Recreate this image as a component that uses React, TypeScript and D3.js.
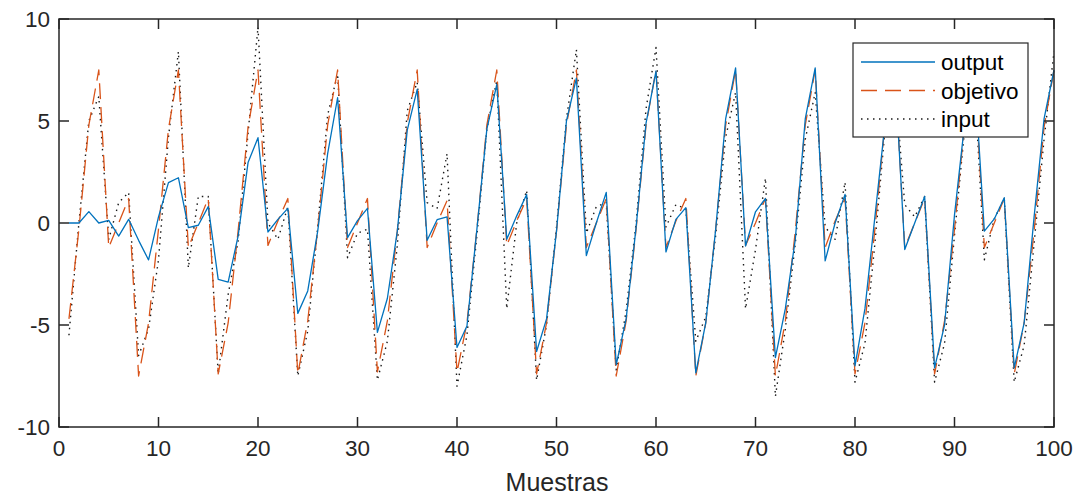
import React, { useRef, useEffect } from 'react';
import * as d3 from 'd3';

// sample values (samples 1..100)
const outputValues = [
  0.0, 0.0, 0.56, 0.0, 0.13, -0.64, 0.18, -0.85, -1.81, 0.3,
  1.98, 2.22, -0.23, -0.11, 0.8, -2.76, -2.9, -0.64, 2.96, 4.18,
  -0.44, 0.18, 0.72, -4.43, -3.33, -0.4, 3.4, 6.14, -0.72, 0.12,
  0.72, -5.36, -3.7, -0.4, 4.55, 6.55, -0.85, 0.16, 0.3, -6.1,
  -5.05, -0.3, 4.6, 6.8, -0.8, 0.35, 1.4, -6.3, -4.7, -0.4,
  5.0, 7.1, -1.6, 0.0, 1.5, -6.95, -4.7, -0.2, 4.9, 7.45,
  -1.42, 0.18, 0.75, -7.35, -4.9, -0.3, 5.1, 7.6, -1.13, 0.55,
  1.2, -6.6, -4.2, -0.8, 5.1, 7.6, -1.86, 0.0, 1.4, -7.0,
  -4.2, 0.3, 4.8, 7.5, -1.3, 0.0, 1.3, -7.1, -5.0, 0.4,
  4.8, 7.5, -0.4, 0.2, 1.24, -7.1, -4.9, 0.3, 5.1, 7.5,
];

const objetivoValues = [
  -4.7, -0.3, 4.8, 7.5, -1.2, 0.0, 1.2, -7.5, -4.9, -0.3,
  4.6, 7.5, -1.2, 0.0, 1.2, -7.4, -4.9, -0.4, 4.7, 7.5,
  -1.1, 0.1, 1.2, -7.4, -4.8, -0.3, 4.8, 7.5, -1.2, 0.0,
  1.2, -7.3, -4.8, -0.4, 4.9, 7.5, -1.2, 0.0, 1.1, -7.3,
  -4.9, -0.3, 4.8, 7.5, -1.1, 0.1, 1.2, -7.4, -4.9, -0.4,
  4.8, 7.5, -1.2, 0.0, 1.2, -7.5, -4.8, -0.3, 4.8, 7.5,
  -1.2, 0.1, 1.2, -7.5, -4.9, -0.3, 4.8, 7.5, -1.1, 0.0,
  1.2, -7.5, -4.8, -0.4, 4.8, 7.5, -1.2, 0.1, 1.2, -7.4,
  -4.9, -0.3, 4.8, 7.5, -1.2, 0.0, 1.2, -7.4, -4.8, -0.3,
  4.8, 7.5, -1.2, 0.0, 1.2, -7.4, -4.9, -0.4, 4.7, 7.5,
];

const inputValues = [
  -5.5, 0.0, 5.0, 6.2, -0.8, 1.0, 1.5, -6.5, -5.2, -1.8,
  4.2, 8.4, -2.2, 1.3, 1.3, -7.4, -3.5, -0.9, 4.4, 9.6,
  0.0, -0.8, 0.8, -7.5, -5.3, -0.2, 5.3, 7.3, -1.7, -0.5,
  -0.3, -7.7, -5.8, -1.1, 5.5, 6.9, 1.0, 0.7, 3.4, -8.0,
  -5.5, -0.6, 4.6, 7.0, -4.2, 0.0, 1.6, -7.7, -5.0, -0.2,
  5.1, 8.5, -0.5, 0.8, 1.0, -7.2, -4.3, 0.0, 5.6, 8.6,
  -0.2, 0.9, 0.7, -5.8, -4.6, -0.6, 4.2, 6.4, -4.2, -1.3,
  2.2, -8.5, -5.2, -1.0, 4.1, 6.4, -0.2, -0.8, 2.0, -7.8,
  -5.9, -1.0, 4.5, 7.0, 0.9, 0.3, 1.3, -7.8, -5.9, -0.6,
  4.5, 7.0, -1.8, 0.2, 1.2, -7.8, -6.0, -1.0, 4.1, 8.4,
];

const xTicks = [0, 10, 20, 30, 40, 50, 60, 70, 80, 90, 100];
const yTicks = [-10, -5, 0, 5, 10];
const seriesNames = ['output', 'objetivo', 'input'];

const WIDTH = 1082;
const HEIGHT = 498;
const FONT = '"Liberation Sans", Arial, Helvetica, sans-serif';

function App() {
  const svgRef = useRef<SVGSVGElement | null>(null);

  useEffect(() => {
    const svg = d3.select(svgRef.current);
    svg.selectAll('*').remove();

    const margin = { top: 19, right: 28, bottom: 71, left: 59 };
    const innerWidth = WIDTH - margin.left - margin.right;
    const innerHeight = HEIGHT - margin.top - margin.bottom;

    const x = d3.scaleLinear().domain([0, 100]).range([0, innerWidth]);
    const y = d3.scaleLinear().domain([-10, 10]).range([innerHeight, 0]);

    const g = svg.append('g').attr('transform', `translate(${margin.left},${margin.top})`);

    const styles = [
      { color: '#0072BD', dash: null, width: 1.3 },
      { color: '#D95319', dash: '16,8', width: 1.3 },
      { color: '#1a1a1a', dash: '1.5,4.5', width: 1.4 },
    ];
    const allSeries = [outputValues, objetivoValues, inputValues];

    const line = d3.line<number>()
      .x((_, i) => x(i + 1))
      .y(d => y(d));

    // draw input first so output sits on top like in the reference
    [2, 1, 0].forEach(k => {
      const s = styles[k];
      g.append('path')
        .datum(allSeries[k])
        .attr('fill', 'none')
        .attr('stroke', s.color)
        .attr('stroke-width', s.width)
        .attr('stroke-dasharray', s.dash)
        .attr('stroke-linejoin', 'round')
        .attr('d', line);
    });

    // axes box with inward ticks on all four sides
    const axisColor = '#262626';
    const tickLen = 10;
    g.append('rect')
      .attr('width', innerWidth).attr('height', innerHeight)
      .attr('fill', 'none').attr('stroke', axisColor).attr('stroke-width', 1.5);

    xTicks.forEach(t => {
      g.append('line').attr('x1', x(t)).attr('x2', x(t)).attr('y1', innerHeight).attr('y2', innerHeight - tickLen)
        .attr('stroke', axisColor).attr('stroke-width', 1.5);
      g.append('line').attr('x1', x(t)).attr('x2', x(t)).attr('y1', 0).attr('y2', tickLen)
        .attr('stroke', axisColor).attr('stroke-width', 1.5);
      g.append('text').attr('x', x(t)).attr('y', innerHeight + 29)
        .attr('text-anchor', 'middle').attr('font-family', FONT).attr('font-size', 22.5)
        .attr('fill', axisColor).text(t);
    });

    yTicks.forEach(t => {
      g.append('line').attr('x1', 0).attr('x2', tickLen).attr('y1', y(t)).attr('y2', y(t))
        .attr('stroke', axisColor).attr('stroke-width', 1.5);
      g.append('line').attr('x1', innerWidth).attr('x2', innerWidth - tickLen).attr('y1', y(t)).attr('y2', y(t))
        .attr('stroke', axisColor).attr('stroke-width', 1.5);
      g.append('text').attr('x', -9).attr('y', y(t)).attr('dy', '0.36em')
        .attr('text-anchor', 'end').attr('font-family', FONT).attr('font-size', 22.5)
        .attr('fill', axisColor).text(t);
    });

    g.append('text')
      .attr('x', innerWidth / 2 + 0.5).attr('y', innerHeight + 64)
      .attr('text-anchor', 'middle').attr('font-family', FONT).attr('font-size', 25)
      .attr('fill', axisColor).text('Muestras');

    // legend
    const lg = svg.append('g').attr('transform', 'translate(853,43)');
    lg.append('rect').attr('width', 175).attr('height', 94)
      .attr('fill', '#fff').attr('stroke', axisColor).attr('stroke-width', 1.2);
    seriesNames.forEach((name, i) => {
      const s = styles[i];
      const ly = 19 + i * 28.5;
      lg.append('line').attr('x1', 8).attr('x2', 82).attr('y1', ly).attr('y2', ly)
        .attr('stroke', s.color).attr('stroke-width', s.width)
        .attr('stroke-dasharray', s.dash);
      lg.append('text').attr('x', 88).attr('y', ly).attr('dy', '0.36em')
        .attr('font-family', FONT).attr('font-size', 22.5).attr('fill', '#000').text(name);
    });
  }, []);

  return (
    <div style={{ position: 'fixed', left: 0, top: 0, background: '#fff' }}>
      <svg ref={svgRef} width={WIDTH} height={HEIGHT} style={{ display: 'block' }} />
    </div>
  );
}

export default App;
